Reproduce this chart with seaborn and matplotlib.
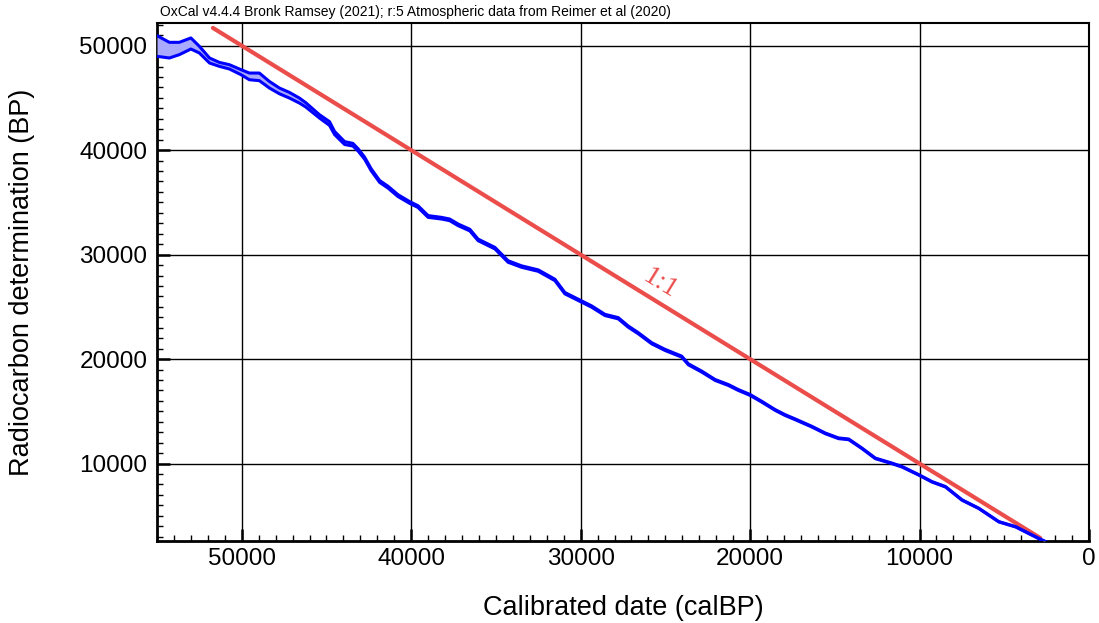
import numpy as np
import pandas as pd
import matplotlib
matplotlib.use("Agg")
import matplotlib.pyplot as plt
from matplotlib.ticker import MultipleLocator
import seaborn as sns

# ---- data ----
cal_bp = [55000, 54270, 53680, 53000, 52500, 51900, 51320, 50730, 50040, 49550,
          48960, 48370, 47780, 47190, 46600, 46220, 45410, 44820, 44520, 43930,
          43440, 43140, 42750, 42360, 41860, 41370, 40780, 40100, 39600, 39000,
          38220, 37730, 37230, 36540, 36050, 35060, 34280, 33490, 32500, 31520,
          30930, 30140, 29350, 28570, 27780, 27190, 26600, 25810, 25020, 24040,
          23640, 22850, 22060, 21280, 20690, 20000, 19310, 18520, 17930, 17330,
          16350, 15560, 14780, 14180, 13400, 12610, 11630, 11040, 10010, 9260,
          8470, 7490, 6500, 5320, 4330, 3550, 2850, 2400]
c14_bp = [49970, 49570, 49730, 50210, 49620, 48580, 48210, 47975, 47460, 47060,
          47015, 46265, 45675, 45260, 44750, 44335, 43230, 42550, 41640, 40680,
          40520, 40040, 39240, 38120, 37000, 36460, 35650, 35000, 34600, 33650,
          33490, 33330, 32850, 32350, 31410, 30620, 29340, 28860, 28470, 27580,
          26310, 25670, 25030, 24230, 23910, 23110, 22480, 21520, 20880, 20240,
          19500, 18800, 18000, 17520, 17040, 16570, 15920, 15130, 14640, 14230,
          13530, 12890, 12420, 12320, 11460, 10500, 10020, 9700, 8890, 8250,
          7780, 6510, 5710, 4430, 3950, 3310, 2740, 2400]
c14_sigma = [990, 750, 590, 530, 320, 240, 190, 205, 240, 320,
             365, 315, 275, 270, 240, 205, 160, 180, 150, 140,
             130, 110, 100, 95, 90, 90, 90, 85, 85, 85,
             80, 80, 80, 80, 75, 75, 75, 70, 70, 70,
             65, 65, 65, 60, 60, 60, 55, 55, 55, 50,
             50, 50, 45, 45, 45, 45, 40, 40, 40, 40,
             35, 35, 35, 35, 30, 30, 30, 30, 25, 25,
             25, 25, 20, 20, 20, 20, 20, 20]
ratio_x = [51700, 2880]
ratio_y = [51700, 2880]
x_ticks = [50000, 40000, 30000, 20000, 10000, 0]
y_ticks = [10000, 20000, 30000, 40000, 50000]
title_text = "OxCal v4.4.4 Bronk Ramsey (2021); r:5 Atmospheric data from Reimer et al (2020)"
x_label = "Calibrated date (calBP)"
y_label = "Radiocarbon determination (BP)"
ratio_label = "1:1"

df = pd.DataFrame({"cal": cal_bp, "c14": c14_bp, "sig": c14_sigma})
df["upper"] = df["c14"] + df["sig"]
df["lower"] = df["c14"] - df["sig"]

sns.set_theme(style="white")
plt.rcParams["font.family"] = ["Liberation Sans", "DejaVu Sans"]

fig = plt.figure(figsize=(10.99, 6.23), dpi=100)
ax = fig.add_axes([157/1099, 1 - 541/623, (1089 - 157)/1099, (541 - 23)/623])

ax.set_xlim(55000, 0)
ax.set_ylim(2590, 52170)

# grid
ax.set_axisbelow(True)
ax.grid(True, which="major", color="black", linewidth=1.0)

# 1:1 line
sns.lineplot(x=ratio_x, y=ratio_y, ax=ax, color="#EB4D4B", linewidth=3.0,
             sort=False, estimator=None, zorder=3)

# calibration band
ax.fill_between(df["cal"], df["lower"], df["upper"], color="#A9A9FF",
                linewidth=0, zorder=4)
sns.lineplot(data=df, x="cal", y="upper", ax=ax, color="#0000FF", linewidth=2.2,
             sort=False, estimator=None, zorder=5)
sns.lineplot(data=df, x="cal", y="lower", ax=ax, color="#0000FF", linewidth=2.2,
             sort=False, estimator=None, zorder=5)

# ticks
ax.set_xticks(x_ticks)
ax.set_xticklabels([str(t) for t in x_ticks])
ax.set_yticks(y_ticks)
ax.set_yticklabels([str(t) for t in y_ticks])
ax.xaxis.set_minor_locator(MultipleLocator(1000))
ax.yaxis.set_minor_locator(MultipleLocator(1000))
ax.tick_params(which="major", direction="in", length=9, width=1.8,
               labelsize=17.5, colors="black", labelcolor="black", pad=5,
               bottom=True, left=True, top=False, right=False)
ax.tick_params(which="minor", direction="in", length=4.5, width=1.0,
               colors="black",
               bottom=True, left=True, top=False, right=False)
ax.tick_params(axis="y", which="major", pad=7)

for side in ["left", "bottom"]:
    ax.spines[side].set_linewidth(2.0)
    ax.spines[side].set_color("black")
for side in ["top", "right"]:
    ax.spines[side].set_linewidth(1.5)
    ax.spines[side].set_color("black")
    ax.spines[side].set_visible(True)

ax.set_xlabel(x_label, fontsize=19.5, color="black")
ax.set_ylabel(y_label, fontsize=19.5, color="black")
ax.xaxis.set_label_coords(0.5, (541 - 608) / 518)
ax.xaxis.label.set_va("center")
ax.yaxis.set_label_coords((22 - 157) / 932, 0.5)
ax.yaxis.label.set_va("center")

# 1:1 label, rotated along the line
p1 = ax.transData.transform((30000, 30000))
p2 = ax.transData.transform((20000, 20000))
angle = np.degrees(np.arctan2(p2[1] - p1[1], p2[0] - p1[0]))
ax.text(25280, 27200, ratio_label, color="#EB4D4B", fontsize=20,
        family=["Liberation Serif", "DejaVu Serif"], rotation=angle,
        rotation_mode="anchor", ha="center", va="center", zorder=6)

fig.text(160/1099, 1 - 12/623, title_text, fontsize=10, ha="left", va="center",
         color="black")

fig.savefig("out.png", dpi=100)
